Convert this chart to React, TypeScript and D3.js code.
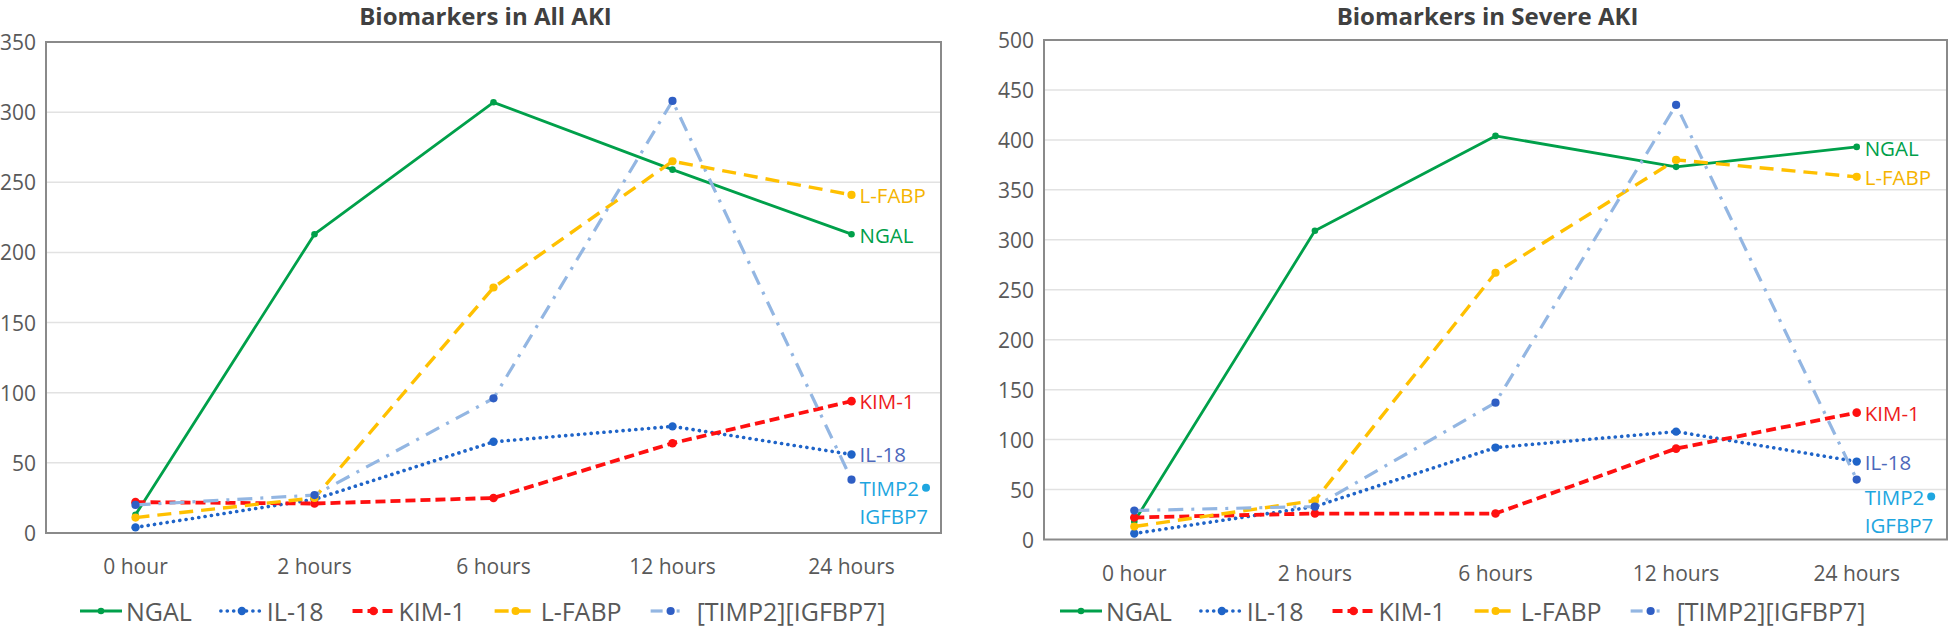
import React from "react";
import * as d3 from "d3";

const categories = ["0 hour", "2 hours", "6 hours", "12 hours", "24 hours"];
const seriesNames = ["NGAL", "IL-18", "KIM-1", "L-FABP", "[TIMP2][IGFBP7]"];

// Biomarkers in All AKI
const allNGAL = [13, 213, 307, 259, 213];
const allIL18 = [4, 24, 65, 76, 56];
const allKIM1 = [22, 21, 25, 64, 94];
const allLFABP = [11, 25, 175, 265, 241];
const allTIMP = [20, 27, 96, 308, 38];
const allTicks = [0, 50, 100, 150, 200, 250, 300, 350];

// Biomarkers in Severe AKI
const sevNGAL = [18, 309, 404, 373, 393];
const sevIL18 = [6, 33, 92, 108, 78];
const sevKIM1 = [22, 26, 26, 91, 127];
const sevLFABP = [13, 39, 267, 380, 363];
const sevTIMP = [29, 33, 137, 435, 60];
const sevTicks = [0, 50, 100, 150, 200, 250, 300, 350, 400, 450, 500];

const FONT = "'Open Sans', 'Segoe UI', 'DejaVu Sans', sans-serif";

type Style = {
  line: string;
  marker: string;
  label: string;
  width: number;
  dash: string | null;
  cap: "round" | "butt";
  r: number;
};

const styles: Style[] = [
  { line: "#00a04a", marker: "#00a04a", label: "#00a04a", width: 2.8, dash: null, cap: "butt", r: 3.3 },
  { line: "#1f64c8", marker: "#1f64c8", label: "#4d68bb", width: 3.6, dash: "0.1 6.3", cap: "round", r: 4.2 },
  { line: "#ff1010", marker: "#ff1010", label: "#ee1c1c", width: 3.8, dash: "10 5", cap: "butt", r: 4.3 },
  { line: "#ffc000", marker: "#ffc000", label: "#f5b400", width: 3.4, dash: "14 8", cap: "butt", r: 4.1 },
  { line: "#93b6e2", marker: "#2f5ec4", label: "#1ea6e0", width: 3.2, dash: "15 8 3 8", cap: "butt", r: 4.1 },
];

type Panel = {
  title: string;
  series: number[][];
  ticks: number[];
  x0: number;
  x1: number;
  yTop: number;
  yBottom: number;
  tickX: number;
  legendX: number;
  timpDy: number;
};

const panels: Panel[] = [
  {
    title: "Biomarkers in All AKI",
    series: [allNGAL, allIL18, allKIM1, allLFABP, allTIMP],
    ticks: allTicks,
    x0: 46,
    x1: 941,
    yTop: 42,
    yBottom: 533,
    tickX: 36,
    legendX: 80,
    timpDy: 8,
  },
  {
    title: "Biomarkers in Severe AKI",
    series: [sevNGAL, sevIL18, sevKIM1, sevLFABP, sevTIMP],
    ticks: sevTicks,
    x0: 1044,
    x1: 1947,
    yTop: 40,
    yBottom: 539.5,
    tickX: 1034,
    legendX: 1060,
    timpDy: 17,
  },
];

const labelDy = [1, 0, 0, 0, 0];

function measure(text: string, size: number): number {
  try {
    const c = document.createElement("canvas");
    const ctx = c.getContext("2d");
    if (ctx) {
      ctx.font = `${size}px 'Open Sans'`;
      return ctx.measureText(text).width;
    }
  } catch (e) {}
  return text.length * size * 0.56;
}

function ChartPanel({ p }: { p: Panel }) {
  const x = d3.scaleBand<string>().domain(categories).range([p.x0, p.x1]);
  const cx = (c: string) => (x(c) as number) + x.bandwidth() / 2;
  const y = d3
    .scaleLinear()
    .domain([0, p.ticks[p.ticks.length - 1]])
    .range([p.yBottom, p.yTop]);
  const line = d3
    .line<number>()
    .x((_, i) => cx(categories[i]))
    .y((v) => y(v));

  const titleCx = (p.x0 + p.x1) / 2 - 8;
  const legendSize = 25;
  let lx = p.legendX;
  const legendItems = seriesNames.map((name, i) => {
    const start = lx;
    const w = measure(name, legendSize);
    lx = start + 46 + w + 29;
    return { name, i, start };
  });
  const legendY = 611;
  const last = categories[categories.length - 1];
  const lastX = cx(last);

  return (
    <g>
      <text
        x={titleCx}
        y={25}
        textAnchor="middle"
        fontFamily={FONT}
        fontWeight="bold"
        fontSize={24}
        fill="#404040"
      >
        {p.title}
      </text>
      {p.ticks.map((t) => (
        <g key={t}>
          {t > 0 && t < p.ticks[p.ticks.length - 1] && (
            <line x1={p.x0} x2={p.x1} y1={y(t)} y2={y(t)} stroke="#e2e2e2" strokeWidth={1.5} />
          )}
          <text
            x={p.tickX}
            y={y(t)}
            textAnchor="end"
            dominantBaseline="central"
            fontFamily={FONT}
            fontSize={21}
            fill="#595959"
          >
            {t}
          </text>
        </g>
      ))}
      <rect
        x={p.x0}
        y={p.yTop}
        width={p.x1 - p.x0}
        height={p.yBottom - p.yTop}
        fill="none"
        stroke="#8a8a8a"
        strokeWidth={2}
      />
      {categories.map((c) => (
        <text
          key={c}
          x={cx(c)}
          y={p.yBottom + 33}
          textAnchor="middle"
          dominantBaseline="central"
          fontFamily={FONT}
          fontSize={21}
          fill="#595959"
        >
          {c}
        </text>
      ))}
      {p.series.map((vals, i) => {
        const s = styles[i];
        return (
          <g key={i}>
            <path
              d={line(vals) || ""}
              fill="none"
              stroke={s.line}
              strokeWidth={s.width}
              strokeDasharray={s.dash || undefined}
              strokeLinecap={s.cap}
              strokeLinejoin="round"
            />
            {vals.map((v, j) => (
              <circle key={j} cx={cx(categories[j])} cy={y(v)} r={s.r} fill={s.marker} />
            ))}
          </g>
        );
      })}
      {p.series.map((vals, i) => {
        const s = styles[i];
        const v = vals[vals.length - 1];
        const ly = y(v) + (i === 4 ? p.timpDy : labelDy[i]);
        if (i === 4) {
          const w = measure("TIMP2", 20.5);
          return (
            <g key={"l" + i}>
              <text
                x={lastX + 8}
                y={ly}
                dominantBaseline="central"
                fontFamily={FONT}
                fontSize={20.5}
                fill={s.label}
              >
                TIMP2
              </text>
              <circle cx={lastX + 8 + w + 7} cy={ly} r={4} fill={s.label} />
              <text
                x={lastX + 8}
                y={ly + 28}
                dominantBaseline="central"
                fontFamily={FONT}
                fontSize={20.5}
                fill={s.label}
              >
                IGFBP7
              </text>
            </g>
          );
        }
        const name = seriesNames[i];
        return (
          <text
            key={"l" + i}
            x={lastX + 8}
            y={ly}
            dominantBaseline="central"
            fontFamily={FONT}
            fontSize={20.5}
            fill={s.label}
          >
            {name}
          </text>
        );
      })}
      {legendItems.map(({ name, i, start }) => {
        const s = styles[i];
        const isTimp = i === 4;
        const lineEnd = isTimp ? start + 12 : start + 42;
        const mx = isTimp ? start + 20 : start + 21;
        return (
          <g key={"lg" + i}>
            <line
              x1={start}
              x2={lineEnd}
              y1={legendY}
              y2={legendY}
              stroke={s.line}
              strokeWidth={s.width}
              strokeDasharray={isTimp ? undefined : s.dash || undefined}
              strokeLinecap={s.cap}
            />
            {isTimp && (
              <line
                x1={start + 26}
                x2={start + 29}
                y1={legendY}
                y2={legendY}
                stroke={s.line}
                strokeWidth={s.width}
              />
            )}
            <circle cx={mx} cy={legendY} r={s.r} fill={s.marker} />
            <text
              x={start + 46}
              y={legendY}
              dominantBaseline="central"
              fontFamily={FONT}
              fontSize={legendSize}
              fill="#595959"
            >
              {name}
            </text>
          </g>
        );
      })}
    </g>
  );
}

export default function App() {
  return (
    <svg
      width={1950}
      height={629}
      viewBox="0 0 1950 629"
      style={{ position: "absolute", left: 0, top: 0, background: "#ffffff" }}
    >
      <rect x={0} y={0} width={1950} height={629} fill="#ffffff" />
      {panels.map((p) => (
        <ChartPanel key={p.title} p={p} />
      ))}
    </svg>
  );
}
